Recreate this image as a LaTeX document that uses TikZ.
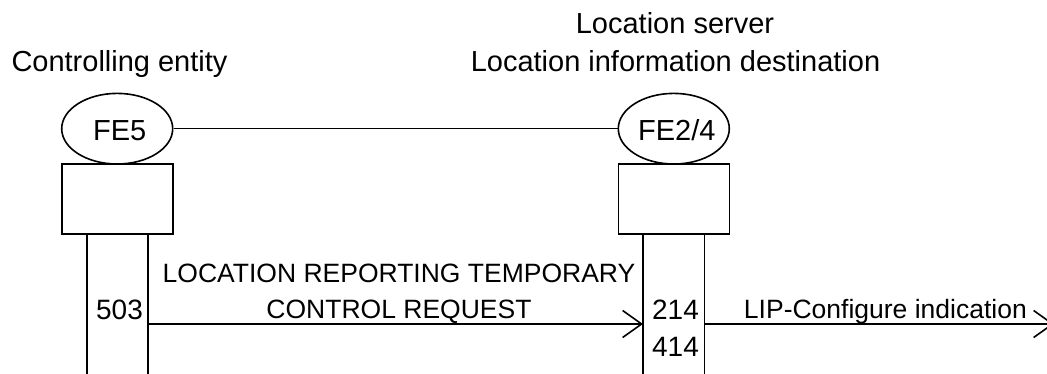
\documentclass[tikz,border=0pt]{standalone}
\usepackage{fontspec}
\setmainfont{Liberation Sans}
\usetikzlibrary{shapes.geometric,arrows.meta}
\begin{document}
\begin{tikzpicture}[x=1pt,y=-1pt,line width=1.6pt,
  hdr/.style={anchor=base,inner sep=0pt,font=\fontsize{29}{34}\selectfont},
  num/.style={anchor=base,inner sep=0pt,font=\fontsize{28}{33}\selectfont},
  msg/.style={anchor=base,inner sep=0pt,font=\fontsize{26.5}{31}\selectfont},
  fe/.style={draw,ellipse,minimum width=111pt,minimum height=70.6pt,inner sep=0pt},
  blk/.style={draw,rectangle,minimum width=111pt,minimum height=70pt,inner sep=0pt},
  msgarrow/.style={-{Straight Barb[length=19pt,width=27pt]}}]
\useasboundingbox (0,0) rectangle (1047,374);
\clip (0,0) rectangle (1047,374);
% headers
\node[hdr] (hls) at (675,34) {Location server};
\node[hdr] (hce) at (119.5,71.7) {Controlling entity};
\node[hdr] (hlid) at (675.5,71.7) {Location information destination};
% functional entities
\node[fe] (fe5) at (117.2,128.7) {};
\node[fe] (fe24) at (673.8,128.7) {};
\node[hdr] (fe5t) at (119.7,140.7) {FE5};
\node[hdr] (fe24t) at (676.8,140.7) {FE2/4};
\draw (fe5.east) -- (fe24.west);
% boxes
\node[blk] (b5) at (117.2,199.3) {};
\node[blk] (b24) at (673.8,199.3) {};
% lifelines
\coordinate (a1t) at (86.7,234.3);  \coordinate (a1b) at (86.7,380);
\coordinate (a2t) at (147.7,234.3); \coordinate (a2b) at (147.7,380);
\coordinate (c1t) at (643,234.3);   \coordinate (c1b) at (643,380);
\coordinate (c2t) at (704.3,234.3); \coordinate (c2b) at (704.3,380);
\draw (a1t) -- (a1b);
\draw (a2t) -- (a2b);
\draw (c1t) -- (c1b);
\draw (c2t) -- (c2b);
% numbers
\node[num] (n503) at (119.5,319.3) {503};
\node[num] (n214) at (675.5,319.3) {214};
\node[num] (n414) at (675.5,356) {414};
% messages
\coordinate (m1s) at (147.7,324);
\coordinate (m1e) at (643,324);
\draw[msgarrow] (m1s) -- (m1e);
\node[msg] (l1a) at (399,283) {LOCATION REPORTING TEMPORARY};
\node[msg] (l1b) at (399,318.5) {CONTROL REQUEST};
\coordinate (m2s) at (704.3,324);
\coordinate (m2e) at (1054,324);
\draw[msgarrow] (m2s) -- (m2e);
\node[msg] (l2) at (885.4,318.5) {LIP-Configure indication};
\end{tikzpicture}
\end{document}
